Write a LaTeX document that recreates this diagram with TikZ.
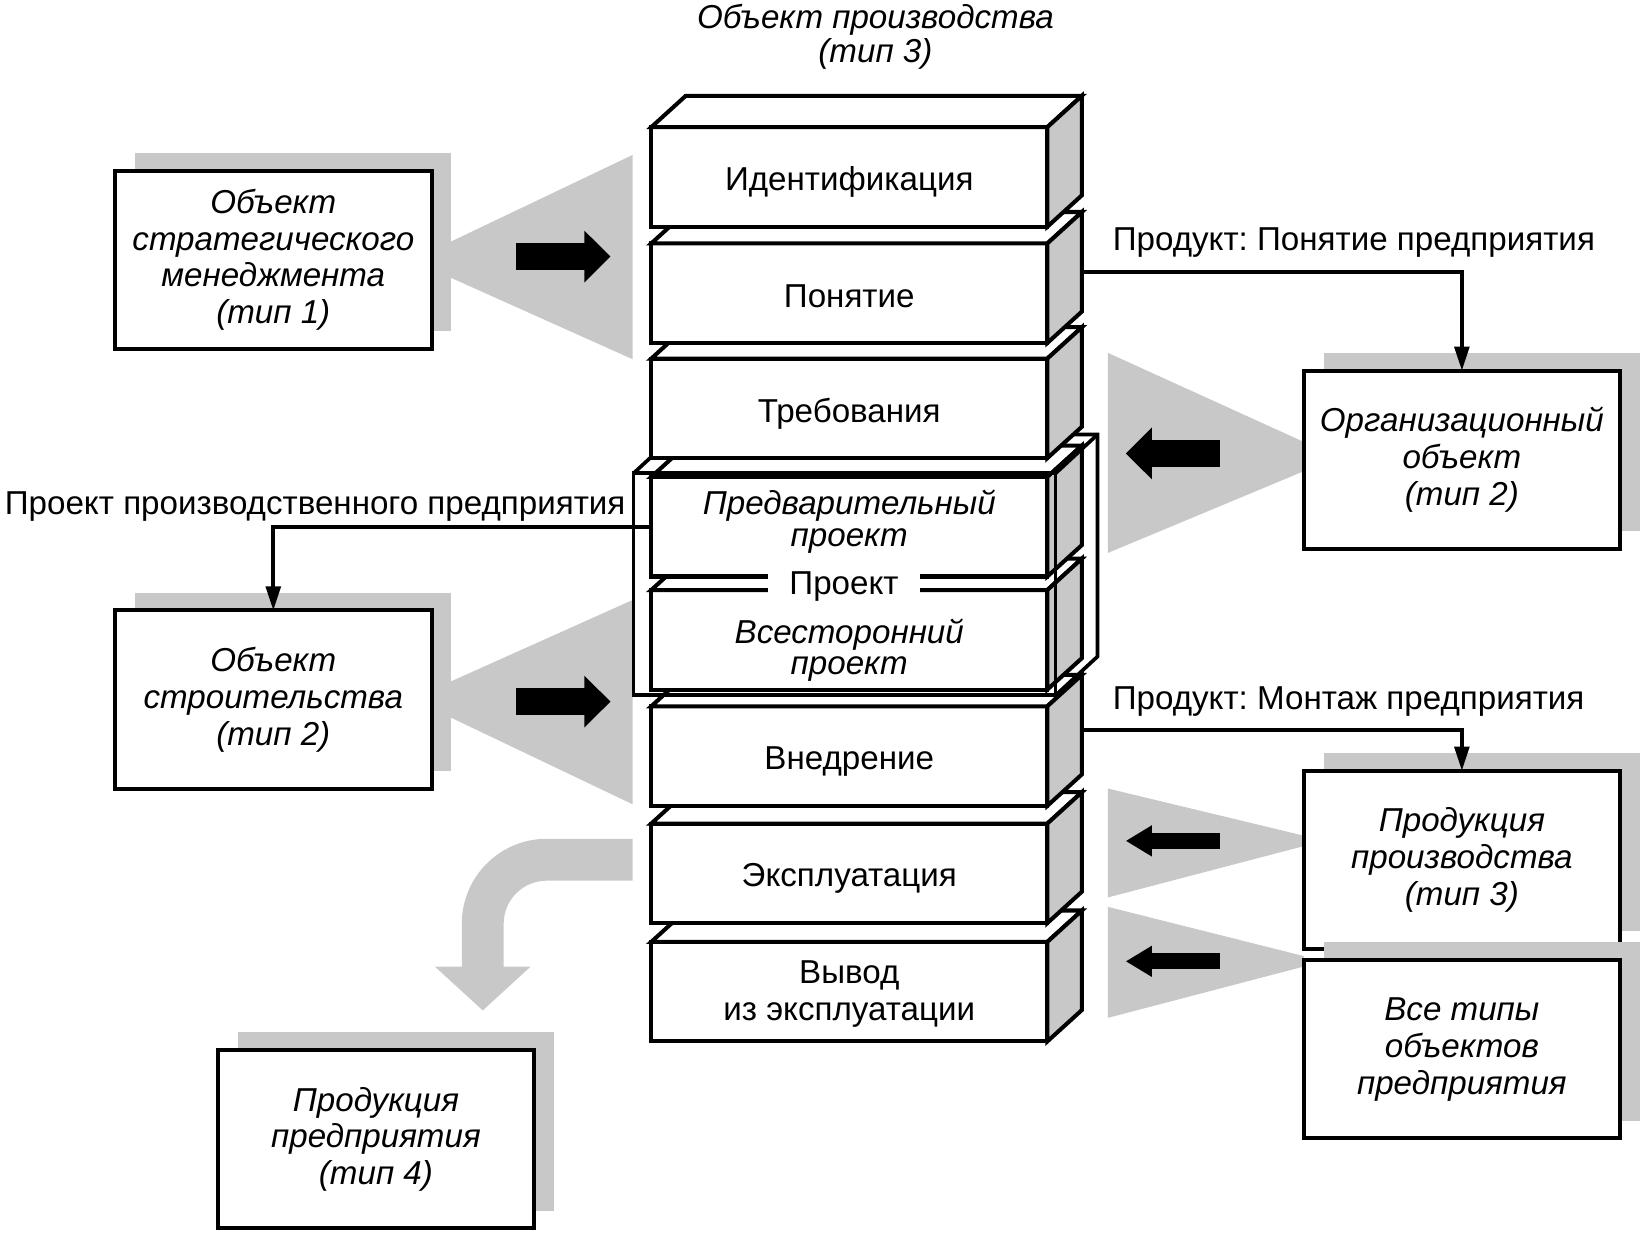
\documentclass[tikz,border=0pt]{standalone}
\usepackage{fontspec}
\setmainfont{Liberation Sans}
\usepackage{tikz}
\usetikzlibrary{arrows.meta, positioning, shadows}
\definecolor{mygray}{RGB}{200,200,200}
\frenchspacing

% top and side faces of one stage block
\newcommand{\stagefaces}[1]{%
    \filldraw[fill=white] (#1.north west) -- ++(33,-30) -- ([shift={(33,-30)}]#1.north east) -- (#1.north east) -- cycle;
    \filldraw[fill=mygray] (#1.north east) -- ([shift={(33,-30)}]#1.north east) -- ([shift={(33,-30)}]#1.south east) -- (#1.south east) -- cycle;
}

\begin{document}
\begin{tikzpicture}[x=0.01cm, y=-0.01cm, line width=1.1pt,
    every node/.style={font=\fontsize{9}{10}\selectfont},
    stage/.style={draw, fill=white, minimum width=3.78cm, minimum height=0.95cm, inner sep=0pt, outer sep=0pt},
    stagetext/.style={align=center, inner sep=0pt},
    objbox/.style={draw, fill=white, minimum width=3.02cm, minimum height=1.70cm, outer sep=0pt, align=center,
        font=\fontsize{9}{10}\selectfont\itshape,
        general shadow={fill=mygray, shadow xshift=0.19cm, shadow yshift=0.17cm}},
    bigarrow/.style={line width=2.6mm, -{Triangle[length=2.5mm, width=4.8mm]}},
    smallarrow/.style={line width=1.5mm, -{Triangle[length=2.5mm, width=2.8mm]}},
    conn/.style={line width=1pt, -{Triangle[length=2.3mm, width=1.4mm]}},
    wire/.style={line width=1pt}]
    \useasboundingbox (0,0) rectangle (1568,1178.4);

    % Gray funnels towards the stages
    \fill[mygray] (430,231) -- (604,148) -- (604,343) -- (430,265) -- cycle;
    \fill[mygray] (430,651) -- (604,573) -- (604,768) -- (430,685) -- cycle;
    \fill[mygray] (1245,422) -- (1058,337) -- (1058,528) -- (1245,450) -- cycle;
    \fill[mygray] (1245,798) -- (1058,753) -- (1058,857) -- (1245,808) -- cycle;
    \fill[mygray] (1245,913) -- (1058,866) -- (1058,972) -- (1245,923) -- cycle;

    % Curved gray arrow out of the operation stage
    \draw[mygray, line width=4mm, rounded corners=6.1mm, -{Triangle[length=4.2mm, width=8.9mm]}] (604,821) -| (461,965);

    % Object boxes
    \node[objbox] (strat) at (261,248) {Объект\\стратегического\\менеджмента\\(тип 1)};
    \node[objbox] (stroi) at (261,668) {Объект\\строительства\\(тип 2)};
    \node[objbox] (prodpred) at (359,1088) {Продукция\\предприятия\\(тип 4)};
    \node[objbox] (org) at (1396,439) {Организационный\\объект\\(тип 2)};
    \node[objbox] (prodproiz) at (1396,821) {Продукция\\производства\\(тип 3)};
    \node[objbox] (vsetipy) at (1396,1002) {Все типы\\объектов\\предприятия};

    % Black arrows inside the funnels
    \draw[bigarrow] (493,245) -- (583,245);
    \draw[bigarrow] (493,670) -- (583,670);
    \draw[bigarrow] (1165,433) -- (1075,433);
    \draw[smallarrow] (1165,803) -- (1075,803);
    \draw[smallarrow] (1165,918) -- (1075,918);

    % Lower stages, drawn from the bottom up
    \foreach \n/\y/\dy/\t in {vyvod/947/-0.02/{Вывод\\из эксплуатации}, ekspl/834/-0.05/Эксплуатация, vnedr/722/-0.05/Внедрение} {
        \node[stage] (\n) at (811,\y) {};
        \stagefaces{\n}
        \node[stagetext] (\n text) at ([yshift=\dy cm]\n.center) {\t};
    }

    % Project stages
    \node[stage] (vsest) at (811,611) {};
    \stagefaces{vsest}
    \node[stagetext, font=\fontsize{9}{8.6}\selectfont\itshape] (vsest text) at (811,621) {Всесторонний\\проект};
    \node[stage] (predv) at (811,503) {};
    \stagefaces{predv}
    \node[stagetext, font=\fontsize{9}{8.6}\selectfont\itshape] (predv text) at (811,498) {Предварительный\\проект};

    % Frame around the project stages
    \draw[wire] (605,452) rectangle (1008,664);
    \draw[wire] (605,452) -- (645,415) -- (1048,415) -- (1048,627) -- (1008,664);
    \draw[wire] (1008,452) -- (1048,415);
    \node[fill=white, inner xsep=0.2cm, inner ysep=0pt] (projlbl) at (806,560) {Проект};

    % Upper stages
    \foreach \n/\y/\dy/\t in {treb/390/-0.05/Требования, ponyat/280/-0.03/Понятие, ident/169/-0.05/Идентификация} {
        \node[stage] (\n) at (811,\y) {};
        \stagefaces{\n}
        \node[stagetext] (\n text) at ([yshift=\dy cm]\n.center) {\t};
    }

    % Title of the stack
    \node[font=\fontsize{9}{9.4}\selectfont\itshape, align=center] (title) at (836,35) {Объект производства\\(тип 3)};

    % Products passed on to the objects
    \draw[conn] ([shift={(33,-20)}]ponyat.east) -| (org.north);
    \node[anchor=west] (lblponyat) at (1049,232) {Продукт: Понятие предприятия};
    \draw[conn] ([shift={(33,-25)}]vnedr.east) -| (prodproiz.north);
    \node[anchor=west] (lblmontazh) at (1049,670) {Продукт: Монтаж предприятия};
    \draw[conn] (predv.west) -| (stroi.north);
    \node[anchor=west] (lblproekt) at (-9,484) {Проект производственного предприятия};
\end{tikzpicture}
\end{document}
